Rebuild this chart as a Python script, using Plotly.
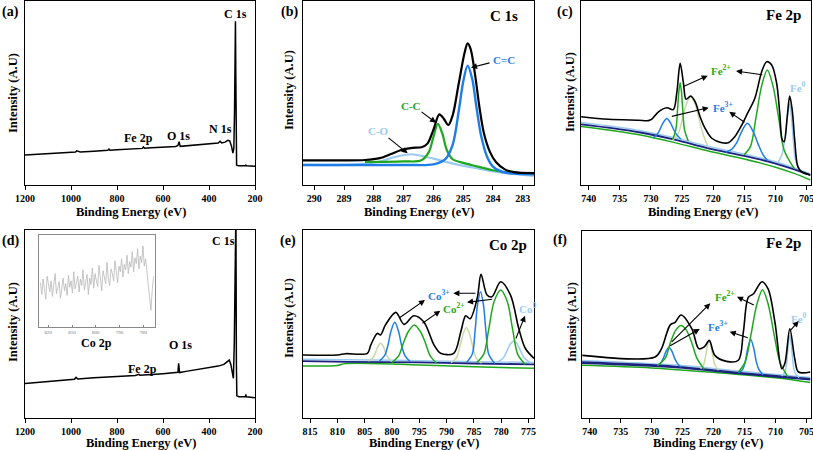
import numpy as np
import plotly.graph_objects as go

W, H = 813, 450
FONT = "Liberation Serif"

# ---------------- data ----------------
# (a) survey, Fe-based sample
A_SURVEY = [(1200, 16.3), (1100, 17.0), (1000, 17.7), (980, 17.9), (975, 18.6), (960, 18.0), (900, 18.4),
            (840, 18.9), (835, 19.5), (830, 18.9), (800, 19.1), (720, 19.6), (700, 19.8), (690, 19.9),
            (685, 20.7), (680, 20.0), (650, 20.2), (600, 20.6), (545, 20.9), (535, 21.5), (530, 23.5),
            (525, 21.0), (515, 21.1), (450, 21.6), (440, 22.0), (400, 22.2), (360, 22.8), (352, 23.8),
            (345, 22.9), (330, 23.3), (318, 24.3), (310, 24.0), (302, 21.0), (296, 17.3), (292, 20.0),
            (289, 40.0), (287, 75.0), (285, 89.0), (283.5, 60.0), (282, 20.0), (280, 10.8), (270, 10.4),
            (250, 10.3), (242, 10.4), (240, 11.0), (238, 10.4), (200, 10.2)]

# (b) C 1s
B_TOTAL = [(290.38, 13.4), (289.0, 13.4), (288.3, 13.6), (287.8, 14.6), (287.4, 17.0), (287.0, 19.4),
           (286.7, 20.2), (286.4, 20.5), (286.2, 22.5), (286.0, 30.0), (285.8, 38.4), (285.65, 36.0),
           (285.5, 32.6), (285.35, 38.0), (285.15, 55.0), (284.95, 72.0), (284.85, 77.0), (284.75, 74.0),
           (284.6, 60.0), (284.45, 42.0), (284.3, 28.0), (284.1, 18.0), (283.9, 12.5), (283.6, 8.5),
           (283.3, 7.0), (282.62, 6.5)]
B_CC_DOUBLE = [(290.38, 10.9), (287.0, 10.9), (286.0, 11.2), (285.6, 14.0), (285.35, 22.0), (285.15, 40.0),
               (285.0, 56.0), (284.85, 64.9), (284.7, 58.0), (284.55, 42.0), (284.4, 27.0), (284.2, 15.5),
               (284.0, 10.0), (283.7, 7.2), (283.3, 6.2), (282.62, 5.8)]
B_CC_SINGLE = [(288.3, 12.5), (287.0, 12.8), (286.4, 13.4), (286.15, 18.0), (286.0, 26.0), (285.85, 33.2),
               (285.7, 28.0), (285.55, 19.0), (285.35, 14.0), (285.0, 12.0), (284.5, 10.0), (284.0, 8.0),
               (283.5, 6.8), (282.62, 6.2)]
B_CO = [(290.38, 10.9), (288.5, 11.2), (287.8, 12.8), (287.3, 15.2), (286.75, 16.7), (286.3, 15.5),
        (285.8, 13.5), (285.3, 11.5), (284.5, 9.0), (283.5, 6.3), (282.62, 5.0)]

# (c) Fe 2p, sample 1
C_TOTAL = [(741.2, 37.1), (736.8, 35.7), (732.0, 35.2), (730.4, 35.0), (729.85, 35.8), (728.78, 39.8),
           (727.45, 42.0), (726.4, 41.0), (725.85, 49.8), (725.3, 66.1), (724.77, 55.3), (724.35, 46.6),
           (723.6, 48.4), (722.9, 45.3), (722.1, 37.1), (721.3, 30.8), (720.23, 25.4), (718.6, 23.0),
           (717.56, 23.0), (716.5, 26.3), (715.4, 32.6), (714.62, 38.0), (713.3, 47.1), (712.2, 61.6),
           (711.4, 67.0), (710.6, 65.2), (709.8, 55.3), (709.3, 39.0), (708.9, 24.5), (708.6, 23.5),
           (708.1, 37.1), (707.7, 48.4), (707.3, 40.8), (706.9, 24.5), (706.4, 10.0), (705.8, 7.2),
           (704.36, 5.4)]
C_BASE_NAVY = [(741.23, 33.0), (736.0, 30.8), (731.45, 28.4), (726.0, 24.5), (720.76, 19.9), (715.0, 15.8),
               (710.1, 11.8), (707.0, 8.5), (704.36, 5.4)]
C_BASE_GREEN = [(741.23, 31.8), (736.0, 29.5), (731.45, 27.0), (726.0, 22.9), (720.76, 18.5), (715.0, 14.1),
                (710.1, 9.8), (707.0, 6.3), (704.36, 2.7)]
C_BASE_LIGHT = [(741.23, 34.0), (736.0, 31.8), (731.45, 29.4), (726.0, 25.5), (720.76, 20.9), (715.0, 16.8),
                (710.1, 12.8), (707.0, 9.3), (704.36, 6.0)]
C_FE3_A = [(729.7, 25.6), (729.0, 27.5), (728.5, 30.5), (728.0, 34.0), (727.45, 36.2), (726.9, 34.0),
           (726.4, 30.5), (725.9, 27.5), (725.2, 25.0)]
C_FE2_A = [(726.5, 24.8), (726.0, 30.0), (725.7, 42.0), (725.5, 51.0), (725.3, 55.6), (725.1, 51.0),
           (724.9, 42.0), (724.6, 30.0), (724.0, 24.0)]
C_SAT = [(726.5, 24.5), (725.6, 28.0), (725.0, 35.0), (724.3, 44.0), (723.6, 48.0), (722.9, 44.0),
         (722.2, 35.0), (721.6, 27.5), (720.8, 20.5)]
C_FE3_B = [(718.0, 17.8), (717.0, 19.5), (716.2, 23.0), (715.5, 28.5), (714.5, 33.5), (713.5, 28.5),
           (712.8, 22.5), (712.0, 16.5), (711.2, 13.0)]
C_FE2_B = [(715.0, 16.5), (714.0, 21.0), (713.1, 37.0), (712.2, 54.0), (711.3, 62.5), (710.4, 54.0),
           (709.5, 37.0), (708.6, 19.0), (707.0, 9.0)]
C_FE0 = [(709.6, 12.0), (708.9, 17.0), (708.3, 30.0), (707.95, 40.0), (707.7, 44.0), (707.45, 38.0),
         (707.2, 28.0), (706.8, 14.0), (706.1, 8.5)]

# (d) survey, Fe/Co sample
D_SURVEY = [(1200, 18.4), (1100, 19.4), (1000, 20.4), (985, 20.6), (978, 21.6), (970, 20.7), (900, 21.4),
            (800, 22.1), (720, 22.6), (705, 23.2), (700, 22.7), (600, 23.6), (545, 24.0), (535, 24.3),
            (532, 29.1), (528, 24.2), (500, 24.8), (450, 25.8), (420, 26.3), (405, 26.9), (400, 26.6),
            (360, 27.6), (335, 28.5), (320, 30.0), (312, 30.8), (305, 28.5), (298, 23.0), (294, 21.1),
            (290, 40.0), (287, 80.0), (285, 110.0), (283, 110.0), (281, 30.0), (279, 11.8), (270, 11.3),
            (250, 11.2), (242, 11.3), (240, 12.6), (238, 11.3), (200, 10.8)]
# (d) inset: Co 2p region of the survey (noisy)
INSET_START, INSET_STEP = 823.3, -0.56
INSET_COUNTS = [48, 35, 52, 40, 30, 55, 44, 38, 50, 33, 46, 58, 36, 42, 49, 31, 45, 53, 39, 47,
                34, 56, 43, 50, 37, 60, 41, 48, 55, 38, 52, 45, 62, 40, 49, 57, 35, 53, 46, 64,
                42, 58, 50, 44, 67, 48, 39, 61, 55, 47, 70, 52, 45, 63, 58, 50, 72, 56, 48, 66,
                60, 74, 54, 68, 62, 78, 58, 71, 65, 82, 60, 75, 69, 85, 63, 77, 70, 88, 66, 74,
                60, 45, 25, 18, 40, 55]

# (e) Co 2p
E_TOTAL = [(816.3, 33.5), (810.0, 33.5), (808.5, 34.2), (804.5, 34.4), (803.9, 38.8), (802.7, 45.0),
           (802.1, 44.2), (801.2, 49.5), (799.3, 56.2), (797.8, 49.8), (796.0, 54.4), (794.2, 51.2),
           (792.3, 38.8), (791.1, 34.4), (788.7, 34.4), (787.4, 45.9), (786.5, 54.4), (785.7, 52.8),
           (784.4, 63.7), (783.7, 76.4), (782.6, 65.4), (781.7, 64.5), (780.1, 72.5), (778.3, 65.4),
           (776.8, 47.7), (775.6, 37.1), (774.0, 31.7)]
E_BASE_NAVY = [(816.3, 30.3), (808.0, 29.9), (795.0, 29.6), (785.0, 29.0), (774.0, 28.5)]
E_BASE_GREEN = [(816.3, 27.7), (810.0, 27.9), (808.5, 29.0), (795.0, 28.2), (785.0, 27.3), (774.0, 26.4)]
E_BASE_LIGHT = [(816.3, 31.2), (808.0, 31.0), (795.0, 30.5), (774.0, 29.5)]
E_SAT_A = [(804.3, 30.3), (803.5, 32.0), (803.0, 35.0), (802.6, 38.0), (802.1, 39.7), (801.6, 38.0),
           (801.2, 35.0), (800.7, 32.0), (800.0, 30.0)]
E_CO3_A = [(802.3, 30.4), (801.4, 33.0), (800.8, 38.0), (800.2, 46.0), (799.5, 50.9), (798.8, 46.0),
           (798.2, 38.0), (797.6, 33.0), (796.7, 30.0)]
E_CO2_A = [(800.0, 29.5), (798.8, 33.0), (797.9, 40.0), (797.0, 46.0), (795.9, 49.5), (794.8, 46.0),
           (793.9, 40.0), (793.0, 33.0), (791.8, 29.0)]
E_SAT_B = [(789.2, 29.5), (788.2, 32.0), (787.5, 39.0), (786.95, 45.0), (786.4, 48.0), (785.85, 45.0),
           (785.3, 39.0), (784.6, 32.0), (783.6, 29.2)]
E_CO3_B = [(786.3, 29.7), (785.3, 34.0), (784.8, 46.0), (784.35, 60.0), (783.8, 67.2), (783.25, 60.0),
           (782.8, 46.0), (782.3, 34.0), (781.2, 29.0)]
E_CO2_B = [(784.5, 29.5), (783.2, 34.0), (782.3, 47.0), (781.3, 62.0), (780.1, 68.1), (778.9, 62.0),
           (777.9, 47.0), (777.0, 34.0), (775.6, 28.5)]
E_CO0 = [(780.8, 29.5), (779.6, 32.0), (778.9, 36.0), (778.3, 39.5), (777.7, 41.0), (777.1, 39.5),
         (776.5, 36.0), (775.8, 32.0), (774.5, 29.0)]

# (f) Fe 2p, Fe/Co sample
F_TOTAL = [(741.2, 33.5), (729.44, 32.6), (728.4, 37.1), (727.0, 49.8), (726.2, 51.2), (725.25, 55.1),
           (723.5, 47.7), (722.4, 37.1), (721.5, 38.0), (720.7, 41.5), (719.8, 33.5), (717.9, 30.3),
           (716.0, 30.9), (715.2, 45.9), (714.4, 64.5), (713.6, 66.3), (712.2, 72.9), (711.2, 69.0),
           (710.1, 51.2), (709.0, 26.4), (708.5, 29.1), (707.7, 47.7), (706.9, 31.7), (706.3, 24.6),
           (704.36, 24.6)]
F_BASE_NAVY = [(741.24, 29.6), (726.2, 27.3), (715.3, 23.8), (704.36, 20.7)]
F_BASE_GREEN = [(741.24, 28.2), (730.0, 26.8), (720.8, 24.6), (710.0, 21.5), (704.36, 19.0)]
F_BASE_LIGHT = [(741.24, 30.8), (726.0, 28.3), (715.0, 24.8), (704.36, 21.7)]
F_FE3_A = [(729.1, 28.0), (728.5, 29.5), (728.1, 32.0), (727.7, 35.5), (727.2, 37.9), (726.7, 35.5),
           (726.3, 32.0), (725.9, 29.5), (725.3, 27.3)]
F_FE2_A = [(729.0, 28.3), (727.8, 32.0), (727.0, 40.0), (726.1, 47.0), (725.25, 49.5), (724.4, 47.0),
           (723.5, 40.0), (722.7, 32.0), (721.5, 26.0)]
F_SAT = [(722.1, 26.3), (721.6, 28.5), (721.3, 33.0), (721.0, 38.5), (720.7, 41.5), (720.4, 38.5),
         (720.1, 33.0), (719.8, 28.5), (719.2, 25.5)]
F_FE3_B = [(716.0, 24.2), (715.3, 26.0), (714.9, 30.0), (714.5, 37.0), (714.0, 42.0), (713.5, 37.0),
           (713.1, 30.0), (712.7, 26.0), (712.0, 23.0)]
F_FE2_B = [(716.0, 24.5), (714.9, 30.0), (714.0, 44.0), (713.0, 61.0), (712.1, 68.6), (711.2, 61.0),
           (710.2, 44.0), (709.3, 30.0), (708.0, 22.0)]
F_FE0 = [(709.0, 22.5), (708.5, 24.5), (708.2, 30.0), (707.95, 39.0), (707.7, 44.1), (707.45, 39.0),
         (707.2, 30.0), (706.9, 24.5), (706.2, 21.5)]

TICKS_SURVEY = [1200, 1000, 800, 600, 400, 200]
TICKS_C1S = [290, 289, 288, 287, 286, 285, 284, 283]
TICKS_FE = [740, 735, 730, 725, 720, 715, 710, 705]
TICKS_CO = [815, 810, 805, 800, 795, 790, 785, 780, 775]
TICKS_INSET = [820, 810, 800, 790, 780]

# ---------------- style ----------------
BLACK = "#000000"
BLUE = "#1f7ee6"
GREEN = "#1fa81f"
LIGHT = "#9ccbf2"
OLIVE = "#c9d8a6"
NAVY = "#1a237e"

fig = go.Figure()


def px2paper_x(px):
    return px / W


def px2paper_y(py):
    return 1 - py / H


def add_curve(points, axis, color, width, shape="spline"):
    xs, ys = zip(*points)
    fig.add_trace(go.Scatter(x=list(xs), y=list(ys), mode="lines",
                             line=dict(color=color, width=width, shape=shape, smoothing=0.9),
                             xaxis="x" + axis, yaxis="y" + axis, showlegend=False, hoverinfo="skip"))


# (a)
add_curve(A_SURVEY, "", BLACK, 1.5, "linear")
# (b)
add_curve(B_CO, "2", LIGHT, 2.2)
add_curve(B_CC_SINGLE, "2", GREEN, 2.2)
add_curve(B_CC_DOUBLE, "2", BLUE, 2.4)
add_curve(B_TOTAL, "2", BLACK, 2.2)
# (c)
add_curve(C_BASE_GREEN, "3", GREEN, 1.5)
add_curve(C_BASE_LIGHT, "3", LIGHT, 1.5)
add_curve(C_BASE_NAVY, "3", NAVY, 1.8)
add_curve(C_SAT, "3", OLIVE, 1.5)
add_curve(C_FE0, "3", LIGHT, 1.5)
add_curve(C_FE3_A, "3", BLUE, 1.5)
add_curve(C_FE3_B, "3", BLUE, 1.5)
add_curve(C_FE2_A, "3", GREEN, 1.5)
add_curve(C_FE2_B, "3", GREEN, 1.5)
add_curve(C_TOTAL, "3", BLACK, 1.6)
# (d)
add_curve(D_SURVEY, "4", BLACK, 1.5, "linear")
inset_x = [INSET_START + INSET_STEP * i for i in range(len(INSET_COUNTS))]
fig.add_trace(go.Scatter(x=inset_x, y=INSET_COUNTS, mode="lines", line=dict(color="#b8b8b8", width=0.8),
                         xaxis="x7", yaxis="y7", showlegend=False, hoverinfo="skip"))
# (e)
add_curve(E_BASE_GREEN, "5", GREEN, 1.5)
add_curve(E_BASE_LIGHT, "5", LIGHT, 1.5)
add_curve(E_BASE_NAVY, "5", NAVY, 1.8)
add_curve(E_SAT_A, "5", OLIVE, 1.5)
add_curve(E_SAT_B, "5", OLIVE, 1.5)
add_curve(E_CO0, "5", LIGHT, 1.5)
add_curve(E_CO3_A, "5", BLUE, 1.5)
add_curve(E_CO3_B, "5", BLUE, 1.5)
add_curve(E_CO2_A, "5", GREEN, 1.5)
add_curve(E_CO2_B, "5", GREEN, 1.5)
add_curve(E_TOTAL, "5", BLACK, 1.6)
# (f)
add_curve(F_BASE_GREEN, "6", GREEN, 1.5)
add_curve(F_BASE_LIGHT, "6", LIGHT, 1.5)
add_curve(F_BASE_NAVY, "6", NAVY, 2.6)
add_curve(F_SAT, "6", OLIVE, 1.5)
add_curve(F_FE0, "6", LIGHT, 1.5)
add_curve(F_FE3_A, "6", BLUE, 1.5)
add_curve(F_FE3_B, "6", BLUE, 1.5)
add_curve(F_FE2_A, "6", GREEN, 1.5)
add_curve(F_FE2_B, "6", GREEN, 1.5)
add_curve(F_TOTAL, "6", BLACK, 1.6)

tickfont = dict(family=FONT, size=10, color="black", weight="bold")


def xaxis(px0, px1, rng, ticks):
    return dict(domain=[px2paper_x(px0), px2paper_x(px1)], range=rng, tickvals=ticks,
                showline=True, mirror=True, linecolor="black", linewidth=1.2,
                ticks="outside", ticklen=4, tickwidth=1, tickcolor="black", ticklabeloverflow="allow",
                tickfont=tickfont, showgrid=False, zeroline=False, fixedrange=True)


def yaxis(py0, py1, anchor):
    return dict(domain=[px2paper_y(py1), px2paper_y(py0)], range=[0, 100], anchor=anchor,
                showline=True, mirror=True, linecolor="black", linewidth=1.2,
                showticklabels=False, ticks="", showgrid=False, zeroline=False, fixedrange=True)


layout = dict(width=W, height=H, margin=dict(l=0, r=0, t=0, b=0, autoexpand=False),
              paper_bgcolor="white", plot_bgcolor="white", showlegend=False)
panels = [("", 25, 255, 1, 185, [1200, 200], TICKS_SURVEY),
          ("2", 303, 534, 1, 185, [290.38, 282.62], TICKS_C1S),
          ("3", 581, 810.5, 1, 185, [741.23, 704.36], TICKS_FE),
          ("4", 25, 255, 230, 418, [1200, 200], TICKS_SURVEY),
          ("5", 303, 534, 230, 418, [816.3, 774.0], TICKS_CO),
          ("6", 582, 810.5, 231, 418, [741.24, 704.36], TICKS_FE)]
for ax, x0, x1, y0, y1, rng, ticks in panels:
    xa = xaxis(x0, x1, rng, ticks)
    xa["anchor"] = "y" + ax
    layout["xaxis" + ax] = xa
    layout["yaxis" + ax] = yaxis(y0, y1, "x" + ax)

# inset axes
layout["xaxis7"] = dict(domain=[px2paper_x(39.3), px2paper_x(155)], range=[823.8, 775.1], anchor="y7",
                        tickvals=TICKS_INSET, showline=True, mirror=True, linecolor="#8a8a8a", linewidth=1,
                        ticks="inside", ticklen=2, tickcolor="#8a8a8a",
                        tickfont=dict(family=FONT, size=5, color="#777"), showgrid=False, zeroline=False)
layout["yaxis7"] = dict(domain=[px2paper_y(326.7), px2paper_y(235)], range=[0, 100], anchor="x7",
                        showline=True, mirror=True, linecolor="#8a8a8a", linewidth=1,
                        showticklabels=False, ticks="", showgrid=False, zeroline=False)

fig.update_layout(**layout)

annotations = []


def text(t, px, py, size=12, color="black", angle=0, xanchor="center"):
    annotations.append(dict(text="<b>" + t + "</b>", x=px2paper_x(px), y=px2paper_y(py), xref="paper",
                            yref="paper", showarrow=False, xanchor=xanchor, yanchor="middle", textangle=angle,
                            font=dict(family=FONT, size=size, color=color)))


def arrow(tx, ty, hx, hy):
    annotations.append(dict(text="", x=px2paper_x(hx), y=px2paper_y(hy), xref="paper", yref="paper",
                            ax=tx - hx, ay=ty - hy, axref="pixel", ayref="pixel", showarrow=True,
                            arrowhead=2, arrowsize=1.1, arrowwidth=1.1, arrowcolor="black", standoff=0,
                            startstandoff=0))


# panel letters
for lbl, px, py in [("(a)", 10, 12), ("(b)", 289, 12), ("(c)", 565, 12),
                    ("(d)", 10, 241), ("(e)", 288, 241), ("(f)", 560, 240)]:
    text(lbl, px, py, size=14)

# axis titles
for px, py in [(131, 212), (418.5, 212), (703, 212), (141, 443), (424, 443), (708, 443)]:
    text("Binding Energy (eV)", px, py, size=12.5)
for px, py in [(13, 93), (289, 90), (570, 92), (13, 322), (289, 318), (572, 322)]:
    text("Intensity (A.U)", px, py, size=12.5, angle=-90)

# (a) labels
text("C 1s", 235, 13.5, 12)
text("N 1s", 221, 128.5, 12)
text("O 1s", 178, 136, 12)
text("Fe 2p", 138, 137.5, 12)
# (b)
text("C 1s", 504, 16, 15)
text("C=C", 503.5, 60, 11, BLUE)
arrow(491, 62.5, 471, 67.7)
text("C-C", 411, 106, 11, GREEN)
arrow(420, 110.7, 436, 122.7)
text("C-O", 378.3, 131, 11, LIGHT)
arrow(387, 136.7, 407.7, 153.3)
# (c)
text("Fe 2p", 783.7, 15, 15)
text("Fe<sup>2+</sup>", 721, 70, 11, GREEN)
arrow(682, 87.3, 707.7, 75.7)
arrow(763.7, 75, 736, 71)
text("Fe<sup>3+</sup>", 722.5, 106.7, 11, BLUE)
arrow(670.3, 116.7, 708.7, 107.7)
arrow(746, 123.3, 729.3, 111.7)
text("Fe<sup>0</sup>", 798, 87.5, 11, LIGHT)
# (d)
text("C 1s", 223, 241.5, 12)
text("O 1s", 180, 344.5, 12)
text("Fe 2p", 142, 369, 12)
text("Co 2p", 96.5, 342.5, 12)
# (e)
text("Co 2p", 507.7, 245, 15)
text("Co<sup>3+</sup>", 439.3, 294.7, 11, BLUE)
arrow(397.7, 319, 425, 300)
arrow(477, 293.3, 453.3, 293.3)
text("Co<sup>2+</sup>", 453.7, 308.3, 11, GREEN)
arrow(421, 324.3, 440.3, 310.7)
arrow(493.7, 299, 467, 302.3)
text("Co<sup>0</sup>", 517, 308.3, 11, LIGHT, xanchor="left")
arrow(515.3, 340, 525, 315.7)
# (f)
text("Fe 2p", 783.7, 243.3, 15)
text("Fe<sup>2+</sup>", 725.3, 295.8, 11, GREEN)
arrow(670.3, 343.3, 710.3, 303.3)
arrow(755.3, 305.7, 737, 296.7)
text("Fe<sup>3+</sup>", 717.5, 326, 11, BLUE)
arrow(668.7, 346.7, 699.7, 329)
arrow(749.3, 338.3, 729.7, 331.7)
text("Fe<sup>0</sup>", 799, 317.5, 11, LIGHT)
arrow(788.7, 332.3, 798.7, 321)

fig.update_layout(annotations=annotations)
fig.write_html("out.html", config={"displayModeBar": False},
               post_script="document.body.style.margin='0';document.body.style.overflow='hidden';")
